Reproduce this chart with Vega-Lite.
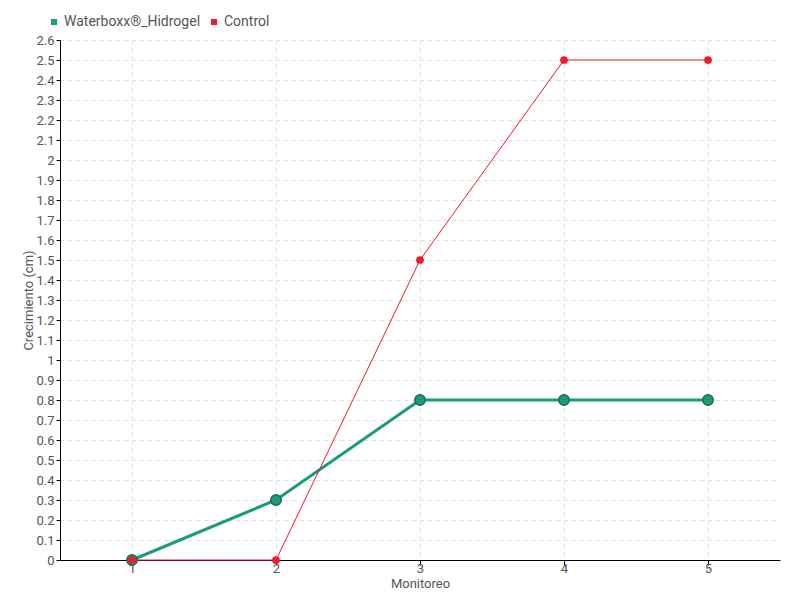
{
  "$schema": "https://vega.github.io/schema/vega-lite/v6.json",
  "width": 720,
  "height": 520,
  "autosize": {"type": "none"},
  "padding": {"left": 60, "top": 40, "right": 20, "bottom": 40},
  "background": "white",
  "config": {
    "font": "Roboto",
    "view": {"stroke": null},
    "axis": {
      "labelFont": "Roboto",
      "titleFont": "Roboto",
      "labelColor": "#555555",
      "titleColor": "#555555",
      "labelFontSize": 13,
      "titleFontSize": 13,
      "titleFontWeight": "normal",
      "domainColor": "#000000",
      "tickColor": "#000000",
      "gridColor": "#dddddd",
      "gridDash": [4, 4]
    }
  },
  "data": {
    "values": [
      {"serie": "Waterboxx®_Hidrogel", "monitoreo": 1, "crecimiento": 0},
      {"serie": "Waterboxx®_Hidrogel", "monitoreo": 2, "crecimiento": 0.3},
      {"serie": "Waterboxx®_Hidrogel", "monitoreo": 3, "crecimiento": 0.8},
      {"serie": "Waterboxx®_Hidrogel", "monitoreo": 4, "crecimiento": 0.8},
      {"serie": "Waterboxx®_Hidrogel", "monitoreo": 5, "crecimiento": 0.8},
      {"serie": "Control", "monitoreo": 1, "crecimiento": 0},
      {"serie": "Control", "monitoreo": 2, "crecimiento": 0},
      {"serie": "Control", "monitoreo": 3, "crecimiento": 1.5},
      {"serie": "Control", "monitoreo": 4, "crecimiento": 2.5},
      {"serie": "Control", "monitoreo": 5, "crecimiento": 2.5}
    ]
  },
  "encoding": {
    "x": {
      "field": "monitoreo", "type": "quantitative",
      "scale": {"domain": [0.5, 5.5], "nice": false, "zero": false},
      "axis": {
        "title": "Monitoreo",
        "values": [1, 2, 3, 4, 5],
        "format": "d",
        "grid": true,
        "labelPadding": -3,
        "tickSize": 5,
        "titleY": 17,
        "titleBaseline": "top",
        "titlePadding": 0
      }
    },
    "y": {
      "field": "crecimiento", "type": "quantitative",
      "scale": {"domain": [0, 2.6], "nice": false},
      "axis": {
        "title": "Crecimiento (cm)",
        "values": [0, 0.1, 0.2, 0.3, 0.4, 0.5, 0.6, 0.7, 0.8, 0.9, 1, 1.1, 1.2, 1.3, 1.4, 1.5, 1.6, 1.7, 1.8, 1.9, 2, 2.1, 2.2, 2.3, 2.4, 2.5, 2.6],
        "format": "~g",
        "grid": true,
        "tickSize": 4,
        "labelPadding": 2,
        "titleX": -25,
        "titleY": 260,
        "titleAngle": -90,
        "titleAlign": "center",
        "titleBaseline": "bottom"
      }
    },
    "color": {
      "field": "serie", "type": "nominal",
      "scale": {"domain": ["Waterboxx®_Hidrogel", "Control"], "range": ["#1b9a7c", "#ee1a2d"]},
      "legend": {
        "title": null,
        "orient": "none",
        "legendX": -13,
        "legendY": -25,
        "direction": "horizontal",
        "symbolType": "square",
        "symbolSize": 36,
        "symbolStrokeWidth": 0,
        "labelFontSize": 14,
        "labelColor": "#555555",
        "labelFont": "Roboto",
        "columnPadding": 6,
        "symbolOffset": 0,
        "labelOffset": 3
      }
    }
  },
  "layer": [
    {
      "transform": [{"filter": "datum.serie === 'Waterboxx®_Hidrogel'"}],
      "mark": {"type": "line", "strokeWidth": 3}
    },
    {
      "transform": [{"filter": "datum.serie === 'Waterboxx®_Hidrogel'"}],
      "mark": {"type": "point", "shape": "circle", "filled": true, "size": 110, "stroke": "#176e58", "strokeWidth": 1.5, "opacity": 1}
    },
    {
      "transform": [{"filter": "datum.serie === 'Control'"}],
      "mark": {"type": "line", "strokeWidth": 1}
    },
    {
      "transform": [{"filter": "datum.serie === 'Control'"}],
      "mark": {"type": "point", "shape": "circle", "filled": true, "size": 60, "opacity": 1}
    }
  ]
}
